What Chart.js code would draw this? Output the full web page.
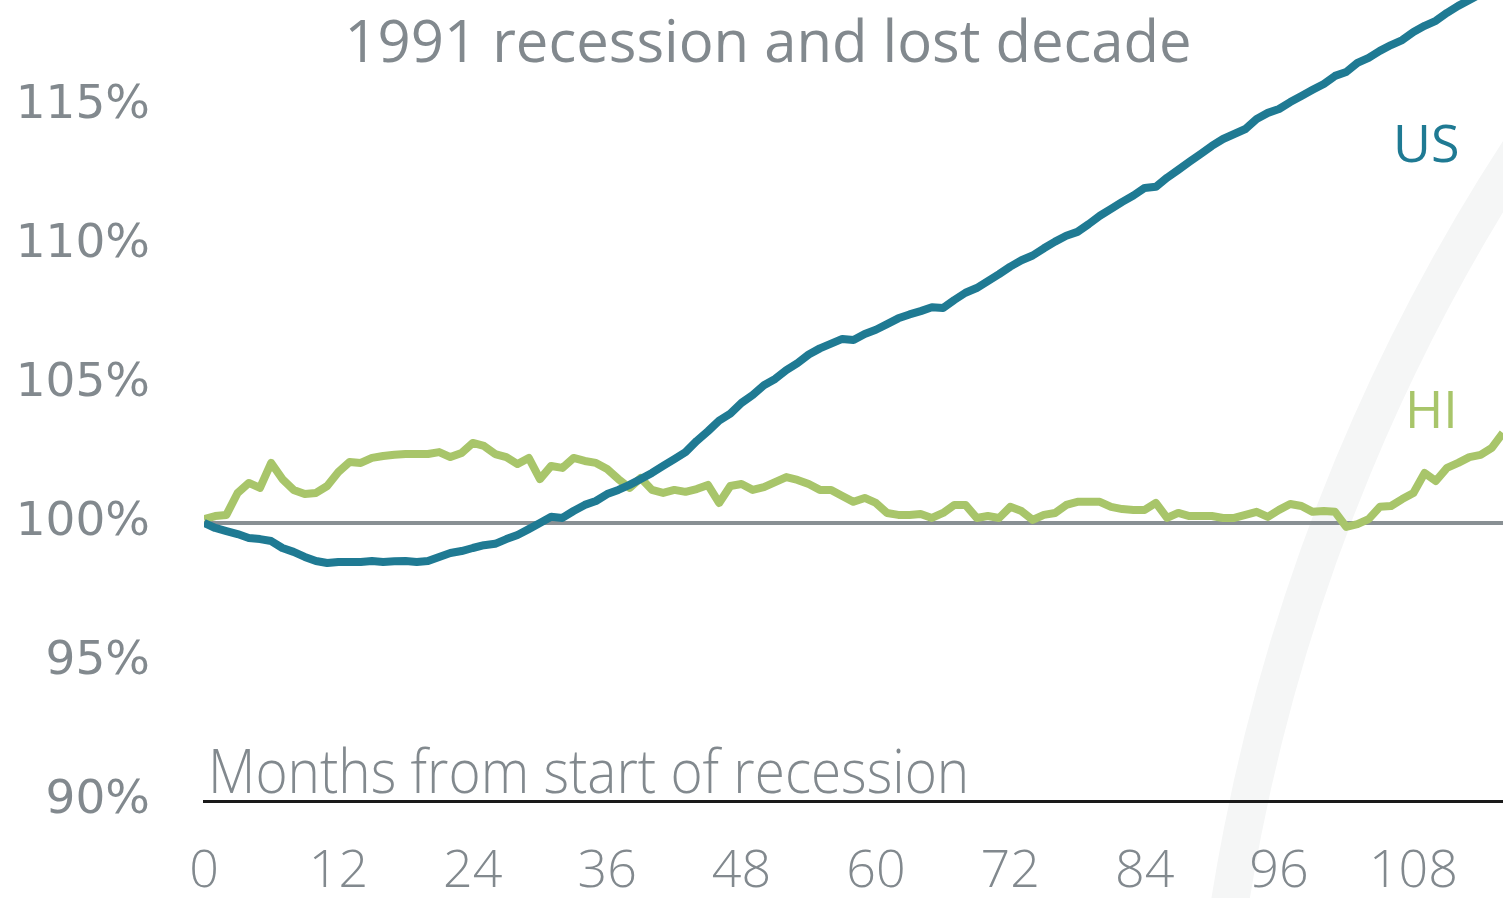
<!DOCTYPE html>
<html>
<head>
<meta charset="utf-8">
<script src="https://cdn.jsdelivr.net/npm/chart.js@4"></script>
<style>
  html, body { margin: 0; padding: 0; background: #fff; overflow: hidden; }
  canvas { display: block; }
</style>
</head>
<body>
<canvas id="chart" width="1503" height="898"></canvas>
<script>
// employment index, 100% = start of the 1991 recession (monthly)
const usValues = [
  100.0, 99.82, 99.71, 99.6, 99.46, 99.42, 99.35, 99.1, 98.96, 98.78,
  98.63, 98.56, 98.6, 98.6, 98.6, 98.63, 98.6, 98.62, 98.63, 98.6,
  98.63, 98.78, 98.92, 98.99, 99.1, 99.2, 99.25, 99.42, 99.57, 99.78,
  100.0, 100.22, 100.18, 100.43, 100.65, 100.79, 101.04, 101.19, 101.37, 101.58,
  101.8, 102.05, 102.3, 102.55, 102.95, 103.3, 103.68, 103.93, 104.32, 104.6,
  104.95, 105.18, 105.5, 105.75, 106.06, 106.28, 106.45, 106.62, 106.58, 106.8,
  106.95, 107.15, 107.36, 107.5, 107.62, 107.76, 107.73, 108.02, 108.28, 108.45,
  108.7, 108.95, 109.22, 109.45, 109.62, 109.88, 110.12, 110.33, 110.47, 110.75,
  111.05, 111.3, 111.55, 111.78, 112.05, 112.09, 112.42, 112.7, 112.99, 113.27,
  113.56, 113.81, 113.99, 114.17, 114.53, 114.75, 114.89, 115.14, 115.36, 115.58,
  115.79, 116.08, 116.22, 116.55, 116.73, 116.98, 117.19, 117.37, 117.66, 117.88,
  118.06, 118.35, 118.6, 118.81, 119.03, 119.24, 119.46
];
const hiValues = [
  100.14, 100.25, 100.29, 101.08, 101.44, 101.26, 102.16, 101.58, 101.19, 101.04,
  101.08, 101.33, 101.83, 102.19, 102.16, 102.34, 102.41, 102.45, 102.48, 102.48,
  102.48, 102.55, 102.37, 102.52, 102.88, 102.77, 102.48, 102.37, 102.12, 102.34,
  101.58, 102.05, 101.98, 102.34, 102.23, 102.16, 101.94, 101.58, 101.26, 101.62,
  101.19, 101.08, 101.19, 101.12, 101.22, 101.37, 100.72, 101.33, 101.4, 101.19,
  101.29, 101.47, 101.65, 101.55, 101.4, 101.19, 101.19, 100.97, 100.76, 100.9,
  100.72, 100.36, 100.29, 100.29, 100.32, 100.18, 100.36, 100.65, 100.65, 100.18,
  100.25, 100.18, 100.58, 100.43, 100.11, 100.29, 100.36, 100.65, 100.76, 100.76,
  100.76, 100.58, 100.5, 100.47, 100.47, 100.72, 100.18, 100.36, 100.25, 100.25,
  100.25, 100.18, 100.18, 100.29, 100.4, 100.22, 100.47, 100.68, 100.61, 100.4,
  100.43, 100.4, 99.86, 99.96, 100.14, 100.58, 100.61, 100.86, 101.08, 101.8,
  101.51, 101.98, 102.16, 102.37, 102.45, 102.7, 103.24
];
const xTicks = [0, 12, 24, 36, 48, 60, 72, 84, 96, 108];
const yTicks = [90, 95, 100, 105, 110, 115];

const US_COLOR = '#1f7a93';
const HI_COLOR = '#a8c56a';
const GRAY_TEXT = '#82898e';

// mois depuis le début de la récession (index de la série)
const months = usValues.map((_, i) => i);
const toPoints = vals => vals.map((v, i) => ({ x: months[i], y: v }));

// filigrane + textes posés directement sur le canevas
const decorPlugin = {
  id: 'decor',
  beforeDraw(chart) {
    const ctx = chart.ctx;
    ctx.save();
    ctx.strokeStyle = '#f5f6f6';
    ctx.lineWidth = 38;
    ctx.beginPath();
    ctx.arc(3140, 1206, 1934, Math.PI * 1.0, Math.PI * 1.25);
    ctx.stroke();
    ctx.restore();
  },
  afterDraw(chart) {
    const ctx = chart.ctx;
    ctx.save();
    ctx.fillStyle = GRAY_TEXT;
    ctx.textAlign = 'center';
    ctx.textBaseline = 'alphabetic';
    ctx.font = '58px "Open Sans"';
    ctx.fillText('1991 recession and lost decade', 768, 62);

    ctx.save();
    ctx.translate(208, 793);
    ctx.scale(0.915, 1);
    ctx.textAlign = 'left';
    ctx.font = '300 60px "Open Sans"';
    ctx.fillText('Months from start of recession', 0, 0);
    ctx.restore();

    ctx.textAlign = 'left';
    ctx.font = '52px "Open Sans"';
    ctx.fillStyle = US_COLOR;
    ctx.fillText('US', 1393, 162);
    ctx.fillStyle = HI_COLOR;
    ctx.fillText('HI', 1405, 428);
    ctx.restore();
  }
};

new Chart(document.getElementById('chart'), {
  type: 'line',
  data: {
    datasets: [
      { label: 'US', data: toPoints(usValues), borderColor: US_COLOR, borderWidth: 8, pointRadius: 0, tension: 0, borderJoinStyle: 'round' },
      { label: 'HI', data: toPoints(hiValues), borderColor: HI_COLOR, borderWidth: 8, pointRadius: 0, tension: 0, borderJoinStyle: 'round' }
    ]
  },
  options: {
    responsive: false,
    animation: false,
    devicePixelRatio: 1,
    layout: { padding: 0 },
    plugins: { legend: { display: false }, tooltip: { enabled: false } },
    scales: {
      x: {
        type: 'linear',
        min: 0,
        max: 116,
        afterBuildTicks: s => { s.ticks = xTicks.map(v => ({ value: v })); },
        afterFit: s => { s.height = 97; s.paddingLeft = 0; s.paddingRight = 0; },
        grid: { display: false, drawTicks: false },
        border: { display: true, color: '#1a1a1a', width: 3 },
        ticks: { color: GRAY_TEXT, padding: 40, maxRotation: 0, font: { family: 'Open Sans', size: 52, weight: 300 } }
      },
      y: {
        min: 90,
        max: 118.81,
        z: 1,
        afterBuildTicks: s => { s.ticks = yTicks.map(v => ({ value: v })); },
        afterFit: s => { s.width = 204; s.paddingTop = 0; s.paddingBottom = 0; },
        border: { display: false },
        grid: {
          drawTicks: false,
          lineWidth: 4,
          color: c => (c.tick && c.tick.value === 100 ? 'rgba(108,116,121,0.8)' : 'rgba(0,0,0,0)')
        },
        ticks: {
          color: GRAY_TEXT,
          padding: 54,
          font: { family: 'DejaVu Sans', size: 47 },
          callback: v => v + '%'
        }
      }
    }
  },
  plugins: [decorPlugin]
});
</script>
</body>
</html>
